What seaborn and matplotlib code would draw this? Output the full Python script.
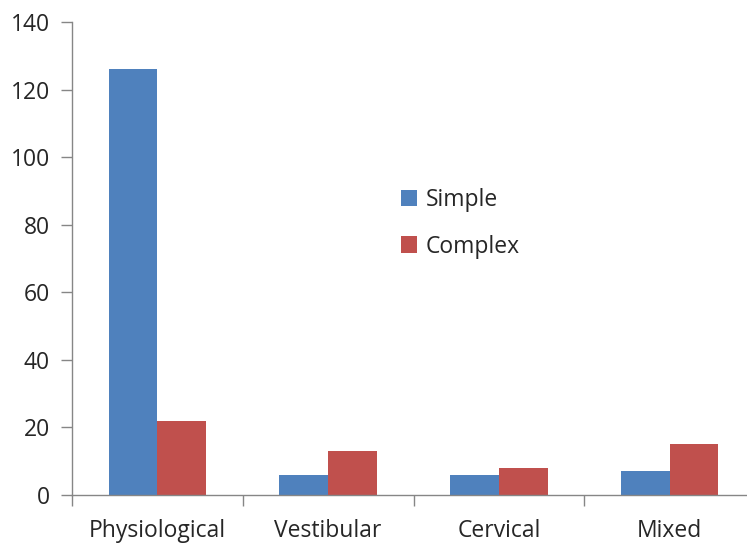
import matplotlib
matplotlib.use("Agg")
import matplotlib.pyplot as plt
import seaborn as sns
import pandas as pd
from matplotlib.patches import Patch

categories = ["Physiological", "Vestibular", "Cervical", "Mixed"]
simple = [126, 6, 6, 7]
complex_ = [22, 13, 8, 15]
series = ["Simple", "Complex"]
colors = ["#4F81BD", "#C0504D"]

df = pd.DataFrame({
    "cat": categories * 2,
    "val": simple + complex_,
    "series": ["Simple"] * 4 + ["Complex"] * 4,
})

sns.set_style("white")
plt.rcParams["font.family"] = ["Open Sans", "DejaVu Sans"]

W, H = 747, 546
fig = plt.figure(figsize=(W / 100, H / 100), dpi=100)
left, right, top, bottom = 72, 755, 22, 495
ax = fig.add_axes([left / W, 1 - bottom / H, (right - left) / W, (bottom - top) / H])

sns.barplot(data=df, x="cat", y="val", hue="series", palette=colors,
            width=0.57, gap=0, ax=ax, legend=False, saturation=1, linewidth=0)

ax.set_xlim(-0.5, 3.5)
ax.set_ylim(0, 140)
ax.set_yticks(range(0, 141, 20))
ax.set_xlabel("")
ax.set_ylabel("")
for s in ["top", "right"]:
    ax.spines[s].set_visible(False)
for s in ["left", "bottom"]:
    ax.spines[s].set_color("#868686")
    ax.spines[s].set_linewidth(1)
ax.tick_params(axis="y", direction="out", length=8, color="#868686", width=1,
               labelsize=16.5, labelcolor="#262626", pad=8, left=True)
ax.tick_params(axis="x", which="major", length=0, labelsize=16.5, labelcolor="#262626", pad=17)
ax.set_xticks([-0.5, 0.5, 1.5, 2.5, 3.5], minor=True)
ax.tick_params(axis="x", which="minor", direction="out", length=8, color="#868686", width=1, bottom=True)

handles = [Patch(facecolor=c, edgecolor="none") for c in colors]
fig.legend(handles, series, loc="upper left", bbox_to_anchor=(380 / W, 1 - 167 / H),
           frameon=False, fontsize=16.5, handlelength=0.7, handleheight=0.7,
           handletextpad=0.4, labelspacing=1.0, labelcolor="#262626")

fig.savefig("out.png", dpi=100)
